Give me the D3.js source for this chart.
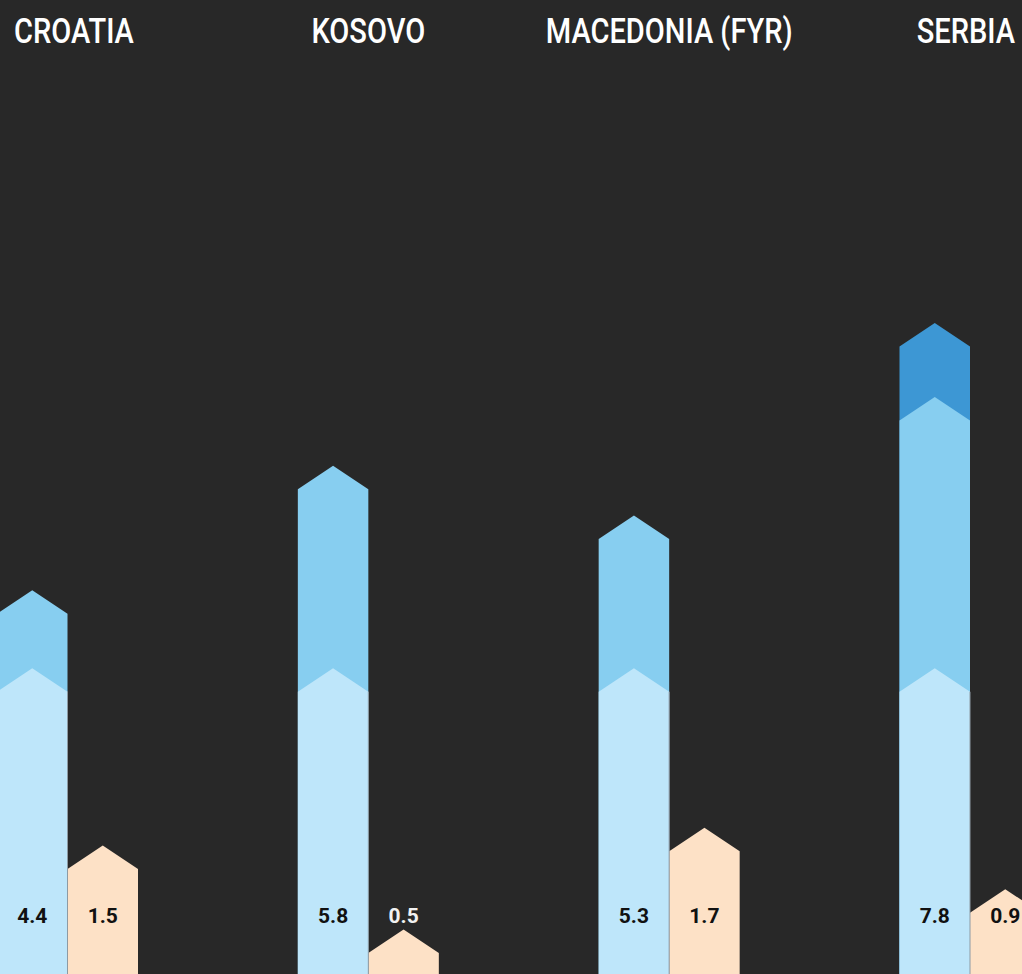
<!DOCTYPE html>
<html>
<head>
<meta charset="utf-8">
<script src="https://cdn.jsdelivr.net/npm/d3@7"></script>
<style>
  html, body { margin: 0; padding: 0; background: #282828; }
  svg { display: block; }
</style>
</head>
<body>
<div id="chart"></div>
<script>
// Data  - - - - - - - - - - - - - - - - - - - - - - - - - - - - - - - - - - -
var countries = ["CROATIA", "KOSOVO", "MACEDONIA (FYR)", "SERBIA"]

// blue stack, bottom to top
var blueBase = [3.61, 3.61, 3.61, 3.61]
var blueMid  = [0.93, 2.41, 1.82, 3.23]
var blueTop  = [0.00, 0.00, 0.00, 0.88]
var blueLabels = ["4.4", "5.8", "5.3", "7.8"]

// peach bar
var peachValues = [1.50, 0.50, 1.71, 0.98]
var peachLabels = ["1.5", "0.5", "1.7", "0.9"]

// Canvas  - - - - - - - - - - - - - - - - - - - - - - - - - - - - - - - - - -
var svgWidth = 1022
  , svgHeight = 974
  , arrowH = 23.5
  , labelY = 923
  , titleSquash = 0.83

var colors = {
    base: "#bee6fa"
  , mid: "#87cef0"
  , top: "#3d97d4"
  , peach: "#fde1c6"
}

var svg = d3.select("#chart").append("svg")
    .attr("width", svgWidth)
    .attr("height", svgHeight)

svg.append("rect")
    .attr("width", svgWidth)
    .attr("height", svgHeight)
    .attr("fill", "#282828")

// scales
var x = d3.scalePoint()
    .domain(countries)
    .range([67.5, 970])

var inner = d3.scaleBand()
    .domain(["blue", "peach"])
    .range([-70.5, 70.5])

var y = d3.scaleLinear()
    .domain([0, 10])
    .range([995, 155])

// arrow shaped bar from 0 up to value v
var arrowPath = function(x0, w, v) {
    var ys = y(v), yb = y(0) + 10
    return "M" + x0 + "," + yb +
        "L" + x0 + "," + ys +
        "L" + (x0 + w / 2) + "," + (ys - arrowH) +
        "L" + (x0 + w) + "," + ys +
        "L" + (x0 + w) + "," + yb + "Z"
}

var rows = countries.map(function(c, i) {
    return {
        country: c,
        base: blueBase[i],
        mid: blueBase[i] + blueMid[i],
        top: blueBase[i] + blueMid[i] + blueTop[i],
        peach: peachValues[i],
        blueLabel: blueLabels[i],
        peachLabel: peachLabels[i]
    }
})

var groups = svg.selectAll("g.country")
    .data(rows).enter()
    .append("g")
    .attr("class", "country")
    .attr("transform", function(d) { return "translate(" + x(d.country) + ",0)" })

// blue stack: tallest first so the lighter arrows sit on top
groups.filter(function(d) { return d.top > d.mid })
    .append("path")
    .attr("fill", colors.top)
    .attr("d", function(d) { return arrowPath(inner("blue"), inner.bandwidth(), d.top) })

groups.append("path")
    .attr("fill", colors.mid)
    .attr("d", function(d) { return arrowPath(inner("blue"), inner.bandwidth(), d.mid) })

groups.append("path")
    .attr("fill", colors.base)
    .attr("d", function(d) { return arrowPath(inner("blue"), inner.bandwidth(), d.base) })

groups.append("path")
    .attr("fill", colors.peach)
    .attr("d", function(d) { return arrowPath(inner("peach"), inner.bandwidth(), d.peach) })

// thin seam between the two bars
groups.append("line")
    .attr("x1", inner("peach")).attr("x2", inner("peach"))
    .attr("y1", function(d) { return y(d.base) })
    .attr("y2", svgHeight)
    .attr("stroke", "#8d9aa3")
    .attr("stroke-width", 1)

// value labels
var numFont = "Roboto, 'Liberation Sans', sans-serif"

groups.append("text")
    .attr("x", inner("blue") + inner.bandwidth() / 2)
    .attr("y", labelY)
    .attr("text-anchor", "middle")
    .style("font-family", numFont)
    .style("font-weight", 700)
    .style("font-size", "21px")
    .attr("fill", "#111")
    .text(function(d) { return d.blueLabel })

groups.append("text")
    .attr("x", inner("peach") + inner.bandwidth() / 2)
    .attr("y", labelY)
    .attr("text-anchor", "middle")
    .style("font-family", numFont)
    .style("font-weight", 700)
    .style("font-size", "21px")
    .attr("fill", function(d) { return y(d.peach) - arrowH > labelY - 15 ? "#f2f2f2" : "#111" })
    .text(function(d) { return d.peachLabel })

// country titles: condensed look, kept inside the canvas
var titles = svg.selectAll("text.title")
    .data(countries).enter()
    .append("text")
    .attr("class", "title")
    .attr("y", 43)
    .attr("text-anchor", "middle")
    .style("font-family", "Roboto, sans-serif")
    .style("font-weight", 500)
    .style("font-size", "35px")
    .attr("fill", "#ffffff")
    .text(function(d) { return d })

titles.each(function(d) {
    var w = this.getComputedTextLength() * titleSquash
      , cx = x(d)
    cx = Math.max(14 + w / 2, Math.min(1015 - w / 2, cx))
    d3.select(this)
        .attr("x", 0)
        .attr("transform", "translate(" + cx + ",0) scale(" + titleSquash + ",1)")
})
</script>
</body>
</html>
